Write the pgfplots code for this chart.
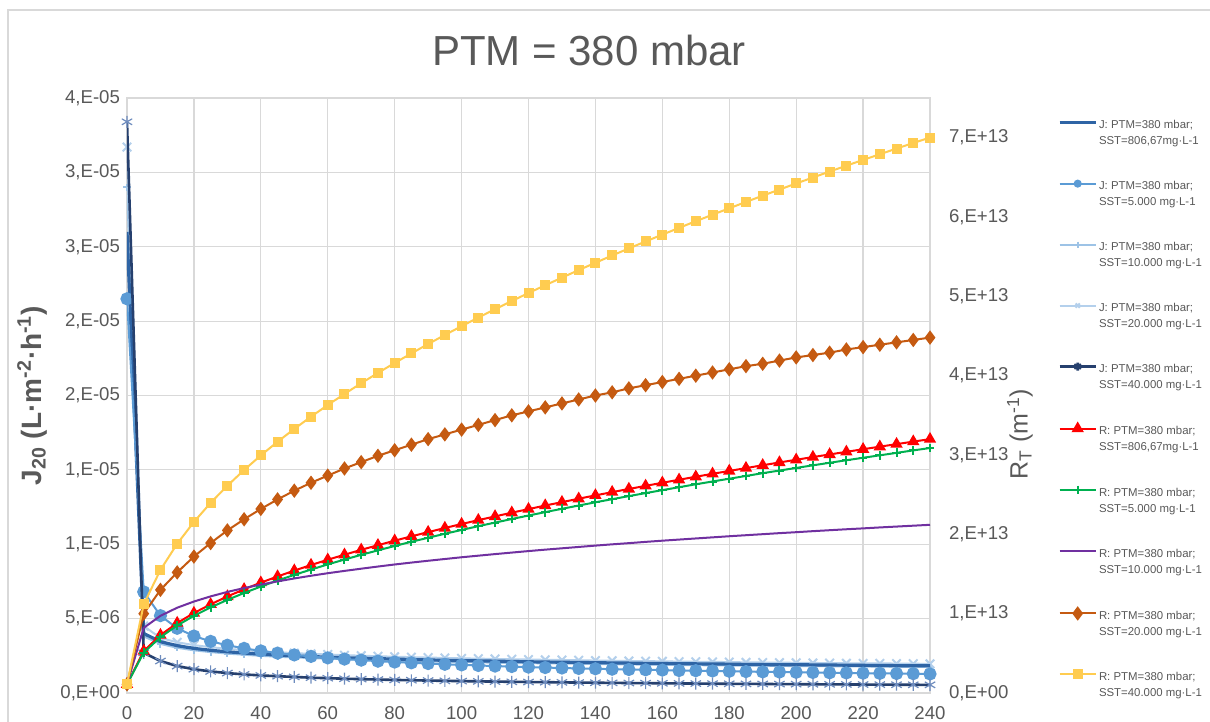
\documentclass[border=0pt]{standalone}
\usepackage{fontspec}
\setmainfont{Liberation Sans}
\usepackage{pgfplots}
\usepackage{pgfplotstable}
\pgfplotsset{compat=1.18}
\definecolor{gridc}{RGB}{217,217,217}
\definecolor{txt}{RGB}{89,89,89}
\definecolor{cJa}{RGB}{46,100,165}
\definecolor{cJb}{RGB}{91,155,213}
\definecolor{cJc}{RGB}{157,195,230}
\definecolor{cJd}{RGB}{180,208,236}
\definecolor{cJe}{RGB}{38,64,110}
\definecolor{cJem}{RGB}{110,140,190}
\definecolor{cRa}{RGB}{255,0,0}
\definecolor{cRb}{RGB}{0,176,80}
\definecolor{cRc}{RGB}{112,48,160}
\definecolor{cRd}{RGB}{197,90,17}
\definecolor{cRe}{RGB}{255,204,80}

% J in units of 1e-5 L m-2 h-1
\pgfplotstableread{
t a b c d e
0 3.10 2.65 3.40 3.67 3.84
5 0.400 0.680 0.380 0.450 0.270
10 0.345 0.520 0.330 0.370 0.215
15 0.318 0.435 0.304 0.341 0.181
20 0.300 0.383 0.287 0.322 0.160
25 0.287 0.347 0.275 0.308 0.145
30 0.277 0.321 0.265 0.297 0.134
35 0.269 0.300 0.257 0.288 0.125
40 0.261 0.283 0.250 0.280 0.118
45 0.255 0.268 0.244 0.274 0.113
50 0.250 0.256 0.239 0.268 0.108
55 0.245 0.246 0.235 0.263 0.103
60 0.241 0.236 0.231 0.259 0.0995
65 0.237 0.228 0.227 0.254 0.0961
70 0.234 0.221 0.224 0.251 0.0931
75 0.231 0.214 0.221 0.247 0.0904
80 0.228 0.208 0.218 0.244 0.0879
85 0.225 0.203 0.215 0.241 0.0857
90 0.222 0.198 0.213 0.238 0.0836
95 0.220 0.193 0.210 0.236 0.0817
100 0.218 0.189 0.208 0.233 0.0799
105 0.216 0.185 0.206 0.231 0.0782
110 0.214 0.181 0.204 0.229 0.0767
115 0.212 0.178 0.202 0.227 0.0752
120 0.210 0.174 0.201 0.225 0.0739
125 0.208 0.171 0.199 0.223 0.0726
130 0.207 0.168 0.198 0.222 0.0714
135 0.205 0.165 0.196 0.220 0.0702
140 0.204 0.163 0.195 0.218 0.0691
145 0.202 0.160 0.193 0.217 0.0681
150 0.201 0.158 0.192 0.215 0.0671
155 0.199 0.156 0.191 0.214 0.0662
160 0.198 0.154 0.190 0.213 0.0653
165 0.197 0.151 0.188 0.211 0.0644
170 0.196 0.150 0.187 0.210 0.0636
175 0.195 0.148 0.186 0.209 0.0628
180 0.194 0.146 0.185 0.208 0.0620
185 0.192 0.144 0.184 0.206 0.0613
190 0.191 0.142 0.183 0.205 0.0606
195 0.190 0.141 0.182 0.204 0.0599
200 0.190 0.139 0.181 0.203 0.0593
205 0.189 0.138 0.180 0.202 0.0587
210 0.188 0.136 0.180 0.201 0.0581
215 0.187 0.135 0.179 0.200 0.0575
220 0.186 0.133 0.178 0.199 0.0569
225 0.185 0.132 0.177 0.199 0.0564
230 0.184 0.131 0.176 0.198 0.0558
235 0.183 0.130 0.175 0.197 0.0553
240 0.183 0.128 0.175 0.196 0.0548
}\Jtab

% R in units of 1e13 m-1
\pgfplotstableread{
t a b c d e
0 0.11 0.11 0.11 0.11 0.11
5 0.529 0.510 0.821 1.00 1.118
10 0.730 0.704 0.973 1.30 1.552
15 0.882 0.851 1.075 1.52 1.881
20 1.008 0.973 1.153 1.72 2.156
25 1.118 1.079 1.218 1.89 2.397
30 1.217 1.174 1.274 2.05 2.613
35 1.307 1.261 1.323 2.19 2.811
40 1.391 1.342 1.367 2.32 2.995
45 1.469 1.418 1.407 2.44 3.167
50 1.543 1.489 1.444 2.55 3.329
55 1.613 1.556 1.478 2.65 3.483
60 1.680 1.621 1.510 2.74 3.630
65 1.743 1.682 1.539 2.83 3.770
70 1.805 1.742 1.567 2.91 3.905
75 1.863 1.798 1.594 2.99 4.035
80 1.920 1.853 1.620 3.06 4.160
85 1.975 1.906 1.644 3.13 4.281
90 2.028 1.957 1.667 3.20 4.399
95 2.080 2.007 1.689 3.26 4.513
100 2.130 2.055 1.711 3.32 4.624
105 2.179 2.103 1.731 3.38 4.732
110 2.226 2.148 1.751 3.44 4.838
115 2.273 2.193 1.770 3.50 4.941
120 2.318 2.237 1.789 3.55 5.042
125 2.363 2.280 1.807 3.60 5.140
130 2.406 2.322 1.824 3.65 5.236
135 2.449 2.363 1.841 3.70 5.331
140 2.491 2.404 1.858 3.75 5.423
145 2.532 2.443 1.874 3.79 5.515
150 2.572 2.482 1.889 3.84 5.604
155 2.611 2.520 1.905 3.88 5.692
160 2.650 2.557 1.920 3.92 5.778
165 2.688 2.594 1.934 3.96 5.863
170 2.726 2.631 1.948 4.00 5.947
175 2.763 2.666 1.962 4.04 6.029
180 2.799 2.701 1.976 4.08 6.110
185 2.835 2.736 1.989 4.12 6.190
190 2.871 2.771 2.002 4.15 6.269
195 2.906 2.804 2.015 4.19 6.346
200 2.940 2.837 2.027 4.23 6.423
205 2.974 2.870 2.040 4.26 6.498
210 3.007 2.902 2.052 4.29 6.573
215 3.040 2.934 2.064 4.33 6.647
220 3.073 2.965 2.075 4.36 6.720
225 3.105 2.996 2.087 4.39 6.791
230 3.137 3.027 2.098 4.42 6.863
235 3.169 3.058 2.109 4.45 6.933
240 3.200 3.088 2.120 4.48 7.002
}\Rtab

\pgfplotsset{
  common/.style={
    scale only axis, width=401.5pt, height=297.5pt,
    at={(0,0)}, anchor=south west,
    xmin=0, xmax=240,
    clip mode=individual,
    tick style={draw=none},
    /pgf/number format/assume math mode=true,
    ticklabel style={font=\fontsize{9.3pt}{11pt}\selectfont, text=txt},
  },
}

\begin{document}
\begin{tikzpicture}
\useasboundingbox (-63.5pt,-14.5pt) rectangle (541.5pt,346.5pt);
\fill[white] (-63.5pt,-14.5pt) rectangle (541.5pt,346.5pt);
\draw[gridc, line width=0.8pt] (-59.5pt,-20pt) -- (-59.5pt,341.5pt) -- (560pt,341.5pt);

\begin{axis}[common,
  ymin=0, ymax=4,
  xtick={0,20,...,240},
  ytick={0,0.5,...,4},
  yticklabels={{0,E+00},{5,E-06},{1,E-05},{1,E-05},{2,E-05},{2,E-05},{3,E-05},{3,E-05},{4,E-05}},
  grid=major, grid style={gridc, line width=0.6pt},
  axis line style={gridc, line width=0.6pt},
  xticklabel style={yshift=-3pt},
  ylabel={\textbf{J\textsubscript{20} (L·m\textsuperscript{-2}·h\textsuperscript{-1})}},
  ylabel style={font=\fontsize{14pt}{16pt}\selectfont, text=txt, at={(axis description cs:-0.118,0.5)}, anchor=center},
]
\addplot[cJc, line width=1pt, mark=+, mark size=1.8pt, mark options={solid}] table[x=t,y=c]{\Jtab};
\addplot[cJd, line width=1pt, mark=x, mark size=3pt, mark options={solid}] table[x=t,y=d]{\Jtab};
\addplot[cJa, line width=1.6pt] table[x=t,y=a]{\Jtab};
\addplot[cJb, line width=1pt, mark=*, mark size=2.8pt, mark options={solid, fill=cJb}] table[x=t,y=b]{\Jtab};
\addplot[cJe, line width=1.3pt, mark=asterisk, mark size=3pt, mark options={solid, cJem, line width=0.6pt}] table[x=t,y=e]{\Jtab};
\end{axis}

\begin{axis}[common,
  ymin=0, ymax=7.5,
  axis x line=none,
  axis y line*=right,
  axis line style={draw=none},
  ytick={0,1,...,7},
  yticklabels={{0,E+00},{1,E+13},{2,E+13},{3,E+13},{4,E+13},{5,E+13},{6,E+13},{7,E+13}},
  yticklabel style={xshift=6pt},
  ylabel={R\textsubscript{T} (m\textsuperscript{-1})},
  ylabel style={font=\fontsize{12.5pt}{14pt}\selectfont, text=txt, at={(axis description cs:1.112,0.435)}, anchor=center},
  legend cell align=left,
  legend style={at={(axis description cs:1.1594,0.966)}, anchor=north west, draw=none, fill=none,
    font=\fontsize{5.7pt}{8pt}\selectfont, text=txt, row sep=14.85pt, inner sep=0pt,
    cells={align=left}, nodes={inner sep=1pt}},
  legend image code/.code={\draw[yshift=5.8pt,mark repeat=2,mark phase=2,#1] plot coordinates {(0pt,0pt)(9pt,0pt)(18pt,0pt)};},
]
\addlegendimage{cJa, line width=1.3pt}
\addlegendentry{J: PTM=380 mbar;\\SST=806,67mg·L-1}
\addlegendimage{cJb, line width=1pt, mark=*, mark size=1.5pt, mark options={fill=cJb}}
\addlegendentry{J: PTM=380 mbar;\\SST=5.000 mg·L-1}
\addlegendimage{cJc, line width=1pt, mark=+, mark size=1.5pt}
\addlegendentry{J: PTM=380 mbar;\\SST=10.000 mg·L-1}
\addlegendimage{cJd, line width=1pt, mark=x, mark size=1.5pt}
\addlegendentry{J: PTM=380 mbar;\\SST=20.000 mg·L-1}
\addlegendimage{cJe, line width=1.3pt, mark=asterisk, mark size=2pt}
\addlegendentry{J: PTM=380 mbar;\\SST=40.000 mg·L-1}

\addplot[cRa, line width=1pt, mark=triangle*, mark size=2.6pt, mark options={solid, fill=cRa}] table[x=t,y=a]{\Rtab};
\addlegendentry{R: PTM=380 mbar;\\SST=806,67mg·L-1}
\addplot[cRb, line width=1pt, mark=+, mark size=2.2pt, mark options={solid}] table[x=t,y=b]{\Rtab};
\addlegendentry{R: PTM=380 mbar;\\SST=5.000 mg·L-1}
\addplot[cRc, line width=1pt] table[x=t,y=c]{\Rtab};
\addlegendentry{R: PTM=380 mbar;\\SST=10.000 mg·L-1}
\addplot[cRd, line width=1pt, mark=diamond*, mark size=2.8pt, mark options={solid, fill=cRd}] table[x=t,y=d]{\Rtab};
\addlegendentry{R: PTM=380 mbar;\\SST=20.000 mg·L-1}
\addplot[cRe, line width=1pt, mark=square*, mark size=2pt, mark options={solid, fill=cRe}] table[x=t,y=e]{\Rtab};
\addlegendentry{R: PTM=380 mbar;\\SST=40.000 mg·L-1}
\end{axis}

\node[font=\fontsize{21pt}{24pt}\selectfont, text=txt] at (231pt,321.5pt) {PTM = 380 mbar};
\end{tikzpicture}
\end{document}
